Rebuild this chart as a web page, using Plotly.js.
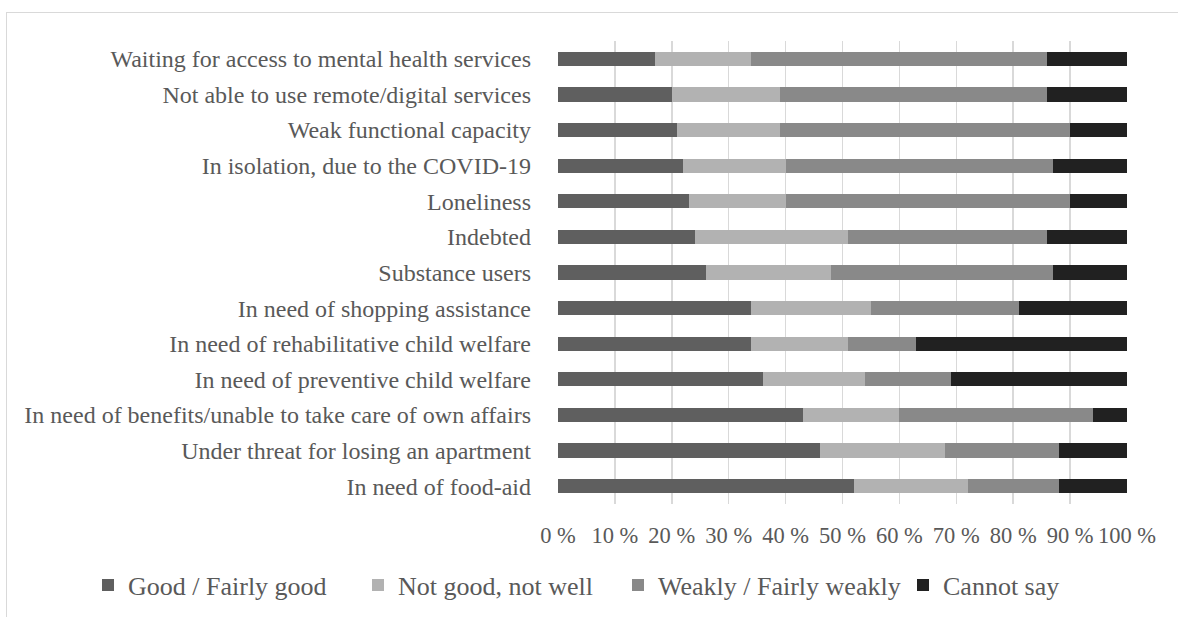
<!DOCTYPE html>
<html>
<head>
<meta charset="utf-8">
<script src="https://cdn.plot.ly/plotly-3.0.1.min.js"></script>
<style>
  html, body { margin: 0; padding: 0; background: #fff; overflow: hidden; }
  #wrap { position: relative; width: 1178px; height: 617px; }
  #frame { position: absolute; left: 6px; top: 12px; width: 1300px; height: 800px;
           border: 1px solid #d9d9d9; box-sizing: border-box; pointer-events: none; }
  #chart { position: absolute; left: 0; top: 0; width: 1178px; height: 617px; }
</style>
</head>
<body>
<div id="wrap">
  <div id="chart"></div>
  <div id="frame"></div>
</div>
<script>
const categories = [
  "Waiting for access to mental health services",
  "Not able to use remote/digital services",
  "Weak functional capacity",
  "In isolation, due to the COVID-19",
  "Loneliness",
  "Indebted",
  "Substance users",
  "In need of shopping assistance",
  "In need of rehabilitative child welfare",
  "In need of preventive child welfare",
  "In need of benefits/unable to take care of own affairs",
  "Under threat for losing an apartment",
  "In need of food-aid"
];
const seriesNames = ["Good / Fairly good", "Not good, not well", "Weakly / Fairly weakly", "Cannot say"];
const goodFairlyGood   = [17, 20, 21, 22, 23, 24, 26, 34, 34, 36, 43, 46, 52];
const notGoodNotWell   = [17, 19, 18, 18, 17, 27, 22, 21, 17, 18, 17, 22, 20];
const weaklyFairlyWeak = [52, 47, 51, 47, 50, 35, 39, 26, 12, 15, 34, 20, 16];
const cannotSay        = [14, 14, 10, 13, 10, 14, 13, 19, 37, 31,  6, 12, 12];
const xTickVals   = [0, 10, 20, 30, 40, 50, 60, 70, 80, 90, 100];
const xTickLabels = ["0 %", "10 %", "20 %", "30 %", "40 %", "50 %", "60 %", "70 %", "80 %", "90 %", "100 %"];

const colors = ["#5f5f5f", "#b2b2b2", "#898989", "#212121"];
const legendWidths = [225, 215, 240, 120];
const values = [goodFairlyGood, notGoodNotWell, weaklyFairlyWeak, cannotSay];

const FONT = '"Liberation Serif", "Times New Roman", Times, serif';
const TXT = "#595959";

const traces = values.map((v, i) => ({
  type: "bar",
  orientation: "h",
  name: seriesNames[i],
  y: categories,
  x: v,
  legendwidth: legendWidths[i],
  marker: { color: colors[i], line: { width: 0 } },
  hoverinfo: "x+y+name"
}));

const layout = {
  width: 1178,
  height: 617,
  barmode: "stack",
  bargap: 0.6,
  paper_bgcolor: "rgba(0,0,0,0)",
  plot_bgcolor: "rgba(0,0,0,0)",
  font: { family: FONT, color: TXT, size: 24 },
  margin: { l: 558, r: 51, t: 41, b: 113, pad: 0, autoexpand: false },
  xaxis: {
    range: [0, 100],
    tickmode: "array",
    tickvals: xTickVals,
    ticktext: xTickLabels,
    showgrid: true,
    gridcolor: "#d9d9d9",
    gridwidth: 1.5,
    zeroline: false,
    showline: false,
    ticks: "",
    ticklabelstandoff: 15,
    tickfont: { family: FONT, color: TXT, size: 22.5 },
    fixedrange: true
  },
  yaxis: {
    type: "category",
    autorange: "reversed",
    showgrid: false,
    zeroline: false,
    showline: false,
    ticks: "",
    ticklabelstandoff: 26,
    tickfont: { family: FONT, color: TXT, size: 24 },
    fixedrange: true
  },
  showlegend: true,
  legend: {
    orientation: "h",
    x: -0.826,
    y: -0.175,
    xanchor: "left",
    yanchor: "middle",
    font: { family: FONT, color: TXT, size: 26 },
    traceorder: "normal",
    itemclick: false,
    itemdoubleclick: false
  }
};

Plotly.newPlot("chart", traces, layout, { displayModeBar: false, staticPlot: true });
</script>
</body>
</html>
